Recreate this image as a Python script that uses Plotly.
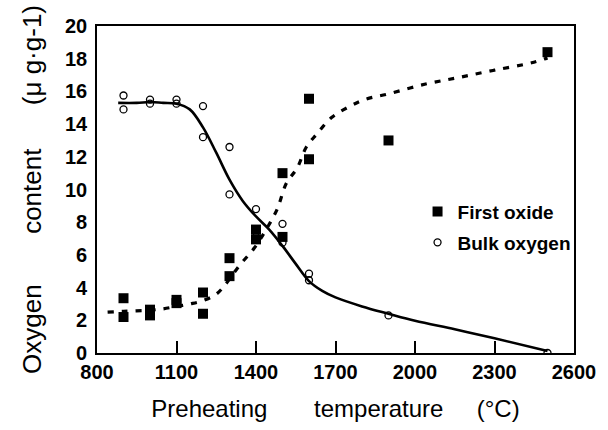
import plotly.graph_objects as go

# First oxide (filled squares)
fo_x = [900, 900, 1000, 1000, 1100, 1100, 1200, 1200, 1300, 1300, 1400, 1400, 1500, 1500, 1600, 1600, 1900, 2500]
fo_y = [3.35, 2.2, 2.65, 2.3, 3.25, 3.05, 3.7, 2.4, 5.8, 4.7, 7.55, 6.95, 7.1, 11.0, 15.55, 11.85, 13.0, 18.4]

# Bulk oxygen (open circles)
bo_x = [900, 900, 1000, 1000, 1100, 1100, 1200, 1200, 1300, 1300, 1400, 1400, 1500, 1500, 1600, 1600, 1900, 2500]
bo_y = [15.75, 14.9, 15.5, 15.25, 15.5, 15.25, 15.1, 13.2, 12.6, 9.7, 8.8, 7.4, 7.9, 6.75, 4.85, 4.45, 2.3, 0.0]

# Fitted curve for bulk oxygen (solid)
bo_fit_x = [880, 950, 1000, 1050, 1100, 1150, 1200, 1250, 1300, 1350, 1400, 1450, 1500, 1550, 1600, 1650, 1700, 1800, 1900, 2000, 2150, 2300, 2500]
bo_fit_y = [15.3, 15.3, 15.35, 15.3, 15.25, 14.9, 13.8, 12.25, 10.6, 9.3, 8.35, 7.55, 6.55, 5.45, 4.4, 3.8, 3.4, 2.85, 2.4, 1.97, 1.45, 0.9, 0.12]

# Fitted curve for first oxide (dashed)
fo_fit_x = [840, 900, 1000, 1050, 1100, 1150, 1200, 1250, 1285, 1335, 1395, 1440, 1480, 1515, 1555, 1590, 1630, 1685, 1750, 1810, 1900, 2040, 2165, 2300, 2440, 2500]
fo_fit_y = [2.5, 2.55, 2.62, 2.7, 2.85, 3.0, 3.2, 3.6, 4.2, 5.3, 6.45, 7.6, 8.8, 10.4, 11.3, 12.6, 13.4, 14.4, 15.05, 15.5, 15.85, 16.45, 16.85, 17.3, 17.75, 18.05]

x_ticks = [800, 1100, 1400, 1700, 2000, 2300, 2600]
y_ticks = [0, 2, 4, 6, 8, 10, 12, 14, 16, 18, 20]

FONT = "Liberation Sans, Arial, sans-serif"
NB = "\u00a0"

fig = go.Figure()
fig.add_trace(go.Scatter(x=bo_fit_x, y=bo_fit_y, mode="lines", line=dict(color="black", width=2.6, shape="spline"),
                         showlegend=False, hoverinfo="skip"))
fig.add_trace(go.Scatter(x=fo_fit_x, y=fo_fit_y, mode="lines", line=dict(color="black", width=3.2, dash="6px,8px", shape="spline"),
                         showlegend=False, hoverinfo="skip"))
fig.add_trace(go.Scatter(x=fo_x, y=fo_y, mode="markers", name="First oxide", legendgroup="a",
                         marker=dict(symbol="square", size=10, color="black", line=dict(width=0))))
fig.add_trace(go.Scatter(x=bo_x, y=bo_y, mode="markers", name="Bulk oxygen", legendgroup="b",
                         marker=dict(symbol="circle-open", size=7, color="black", line=dict(width=1.3))))

fig.update_layout(
    width=608, height=430,
    margin=dict(l=97, r=23, t=26, b=76),
    paper_bgcolor="white", plot_bgcolor="white",
    font=dict(family=FONT, color="black"),
    legend=dict(x=0.672, y=0.49, xanchor="left", yanchor="top", bgcolor="rgba(0,0,0,0)",
                font=dict(size=19, family=FONT, color="black", weight="bold"), itemwidth=30, tracegroupgap=3),
)
fig.update_xaxes(range=[800, 2600], tickmode="array", tickvals=x_ticks, ticktext=[str(v) for v in x_ticks],
                 ticks="inside", ticklen=12, tickwidth=2.2, tickcolor="black",
                 showline=True, linecolor="black", linewidth=1.6, mirror=True, showgrid=False, zeroline=False,
                 tickfont=dict(size=20, family=FONT, weight="bold"),
                 title=dict(text=f"Preheating{NB*7}temperature{NB*5}(°C)", font=dict(size=24, family=FONT), standoff=18))
fig.update_yaxes(range=[0, 20], tickmode="array", tickvals=y_ticks, ticktext=[str(v) for v in y_ticks],
                 ticks="", ticklabelstandoff=4, showline=True, linecolor="black", linewidth=1.6, mirror=True,
                 showgrid=False, zeroline=False,
                 tickfont=dict(size=20, family=FONT, weight="bold"),
                 title=dict(text=f"Oxygen{NB*7}content{NB*6}(\u03bc{NB}g\u00b7g-1)",
                            font=dict(size=26, family=FONT), standoff=16))

fig.write_html("out.html")
